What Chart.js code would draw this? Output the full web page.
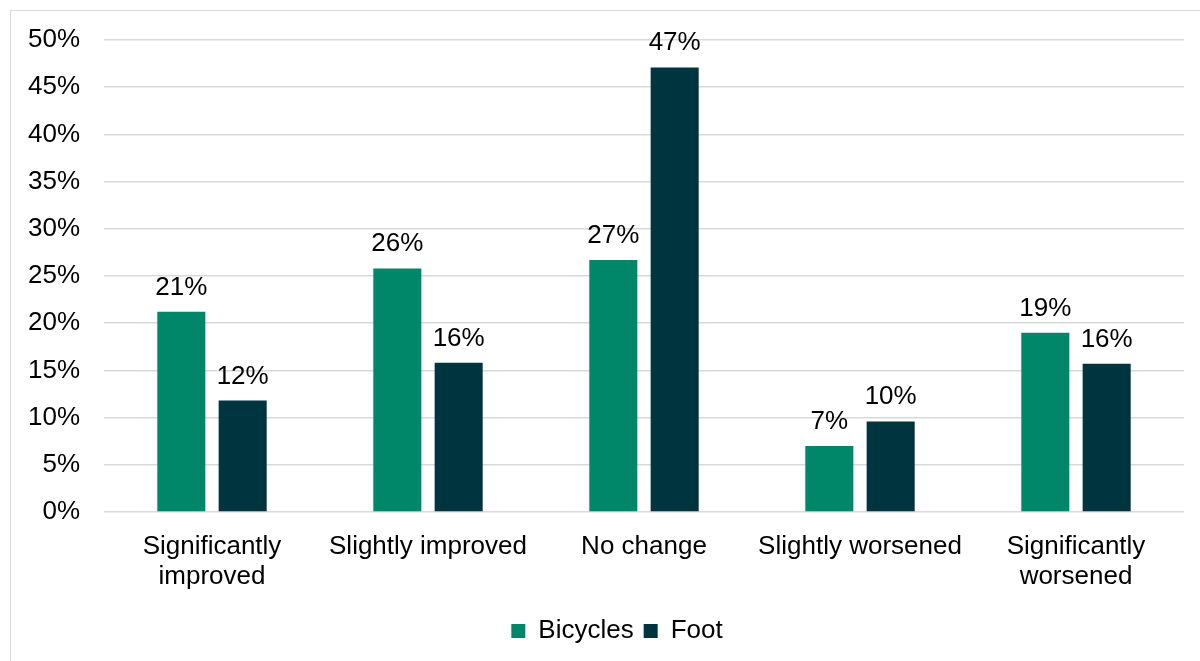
<!DOCTYPE html>
<html>
<head>
<meta charset="utf-8">
<script src="https://cdn.jsdelivr.net/npm/chart.js@4"></script>
<style>
  html, body { margin: 0; padding: 0; background: #fff; }
  .frame {
    position: absolute; left: 10px; top: 10px;
    width: 1200px; height: 660px;
    border: 1px solid #d9d9d9; box-sizing: border-box;
  }
  .wrap { position: absolute; left: 0; top: 0; width: 1200px; height: 661px; }
</style>
</head>
<body>
<div class="frame"></div>
<div class="wrap"><canvas id="change-chart"></canvas></div>
<script>
let categories = [
    ['Significantly', 'improved'],
    'Slightly improved',
    'No change',
    'Slightly worsened',
    ['Significantly', 'worsened'],
];
let bicycles = [21.2, 25.8, 26.7, 7.0, 19.0];
let foot = [11.8, 15.8, 47.1, 9.6, 15.7];
let y_ticks = [0, 5, 10, 15, 20, 25, 30, 35, 40, 45, 50];

let FONT = 'Liberation Sans, Arial, sans-serif';

// percentage above each bar
let bar_labels = {
    id: 'barLabels',
    afterDatasetsDraw: function(chart) {
        let ctx = chart.ctx;
        ctx.save();
        ctx.font = '26px ' + FONT;
        ctx.fillStyle = '#000';
        ctx.textAlign = 'center';
        ctx.textBaseline = 'alphabetic';
        chart.data.datasets.forEach(function(dataset, i) {
            chart.getDatasetMeta(i).data.forEach(function(bar, j) {
                ctx.fillText(Math.round(dataset.data[j]) + '%', bar.x, bar.y - 17);
            });
        });
        ctx.restore();
    }
};

// centre the legend under the plot area instead of the whole canvas
let legend_shift = {
    id: 'legendShift',
    afterLayout: function(chart) {
        let legend = chart.legend;
        let dx = 25, dy = 2;
        legend.left += dx; legend.right += dx;
        legend.top += dy; legend.bottom += dy;
    }
};

let chart = new Chart(document.getElementById('change-chart'), {
    type: 'bar',
    data: {
        labels: categories,
        datasets: [
            { label: 'Bicycles', data: bicycles, backgroundColor: '#00876A' },
            { label: 'Foot', data: foot, backgroundColor: '#00343F' },
        ]
    },
    options: {
        responsive: true,
        maintainAspectRatio: false,
        animation: false,
        categoryPercentage: 0.568,
        barPercentage: 0.783,
        layout: { padding: { left: 0, top: 40, right: 16, bottom: 9 } },
        plugins: {
            tooltip: { enabled: false },
            legend: {
                position: 'bottom',
                labels: {
                    boxWidth: 14,
                    boxHeight: 14,
                    padding: 10,
                    color: '#000',
                    font: { family: FONT, size: 26 },
                }
            }
        },
        scales: {
            x: {
                grid: { display: false },
                border: { display: false },
                ticks: {
                    color: '#000',
                    padding: 12,
                    maxRotation: 0,
                    font: { family: FONT, size: 26, lineHeight: 1.15 },
                },
                afterFit: function(scale) { scale.height = 94; }
            },
            y: {
                min: 0,
                max: 50,
                grid: { color: '#d9d9d9', lineWidth: 1.5, drawTicks: false },
                border: { display: false },
                afterBuildTicks: function(scale) {
                    scale.ticks = y_ticks.map(function(v) { return { value: v }; });
                },
                ticks: {
                    color: '#000',
                    padding: 24,
                    font: { family: FONT, size: 26 },
                    callback: function(value) { return value + '%'; }
                },
                afterFit: function(scale) { scale.width = 104; }
            }
        }
    },
    plugins: [bar_labels, legend_shift]
});
</script>
</body>
</html>
